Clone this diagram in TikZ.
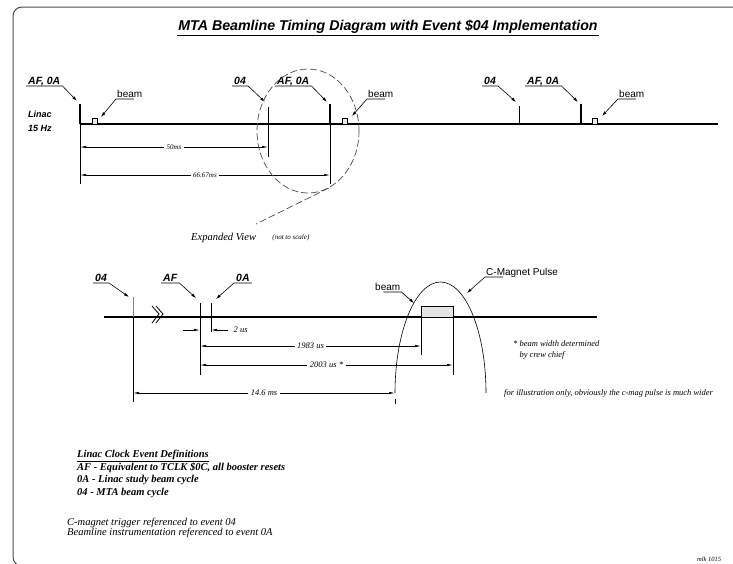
\documentclass[tikz,border=0pt]{standalone}
\usepackage{fontspec}
\setmainfont{Liberation Serif}
\setsansfont{Liberation Sans}
\usetikzlibrary{arrows.meta,positioning,shapes.geometric}

\begin{document}
\begin{tikzpicture}[
    x=1pt, y=-1pt,
    tline/.style={line width=1.5pt},
    evtick/.style={line width=1.6pt},
    thin/.style={line width=0.6pt},
    evlbl/.style={font=\sffamily\bfseries\itshape\fontsize{10.5}{12}\selectfont, inner xsep=2pt, inner ysep=1pt, text depth=0.5pt, anchor=south west},
    bmlbl/.style={font=\sffamily\fontsize{10}{12}\selectfont, inner sep=1pt, text depth=0.5pt, anchor=south west},
    leader/.style={-{Latex[length=5pt,width=3pt]}, line width=0.6pt},
    dimline/.style={{Latex[length=6pt,width=2.4pt]}-{Latex[length=6pt,width=2.4pt]}, line width=0.6pt},
    dimarr/.style={-{Latex[length=6pt,width=2.4pt]}, line width=0.6pt},
    dimlbl/.style={font=\itshape\fontsize{8.5}{10}\selectfont, fill=white, inner sep=2.5pt},
    topdim/.style={dimlbl, font=\itshape\fontsize{7}{8}\selectfont},
    beambox/.style={draw, fill=gray!15, line width=0.6pt, minimum width=5pt, minimum height=6pt, inner sep=0pt},
    note/.style={font=\itshape\fontsize{8.5}{11}\selectfont, inner sep=0pt, anchor=west, align=left}
]
\useasboundingbox (0,0) rectangle (733,563);
\clip (0,0) rectangle (733,563);

% page frame
\draw[line width=1pt, black!70, rounded corners=9pt] (13,7) rectangle (760,566);

% title
\node[font=\sffamily\bfseries\itshape\fontsize{14.2}{16}\selectfont, inner sep=1pt] (title) at (388,27) {MTA Beamline Timing Diagram with Event \$04 Implementation};
\draw[line width=0.7pt] (title.south west) -- (title.south east);

% Linac 15 Hz timeline
\node[font=\sffamily\bfseries\itshape\fontsize{9}{14}\selectfont, align=left, inner sep=0pt] (linac) at (40,121) {Linac\\15 Hz};
\coordinate (lnS) at (80,124);
\coordinate (lnE) at (718,124);
\draw[tline] (lnS) -- (lnE);

\draw[evtick] (80,104) -- (80,124);
\draw[evtick] (330,104) -- (330,124);
\draw[evtick] (581,104) -- (581,124);
\draw[line width=1pt] (268,107) -- (268,124);
\draw[line width=0.9pt] (519,106) -- (519,124);

\node[beambox] (bxA) at (94.5,121) {};
\node[beambox] (bxB) at (344.5,121) {};
\node[beambox] (bxC) at (594.5,121) {};

% event labels
\node[evlbl] (evA) at (26,86) {AF, 0A};
\node[evlbl] (evB) at (232,86) {04};
\node[evlbl] (evC) at (275,86) {AF, 0A};
\node[evlbl] (evD) at (482,86) {04};
\node[evlbl] (evE) at (525,86) {AF, 0A};
\coordinate (tgA) at (77,101);
\coordinate (tgB) at (265,102);
\coordinate (tgC) at (327,102);
\coordinate (tgD) at (516,102);
\coordinate (tgE) at (578,102);
\draw[leader] (evA.south west) -- (evA.south east) -- (tgA);
\draw[leader] (evB.south west) -- (evB.south east) -- (tgB);
\draw[leader] (evC.south west) -- (evC.south east) -- (tgC);
\draw[leader] (evD.south west) -- (evD.south east) -- (tgD);
\draw[leader] (evE.south west) -- (evE.south east) -- (tgE);

\node[bmlbl] (bmA) at (116,99) {beam};
\node[bmlbl] (bmB) at (367,99) {beam};
\node[bmlbl] (bmC) at (618,99) {beam};
\coordinate (btA) at (101,117);
\coordinate (btB) at (352,116);
\coordinate (btC) at (602,116);
\draw[leader] ([xshift=18pt]bmA.south west) -- (bmA.south west) -- (btA);
\draw[leader] ([xshift=18pt]bmB.south west) -- (bmB.south west) -- (btB);
\draw[leader] ([xshift=18pt]bmC.south west) -- (bmC.south west) -- (btC);

% 50ms and 66.67ms
\draw[thin] (80,124) -- (80,184);
\draw[thin] (268,124) -- (268,157);
\draw[thin] (330,124) -- (330,184);
\coordinate (dAa) at (80,147);
\coordinate (dAb) at (268,147);
\coordinate (dBa) at (80,175);
\coordinate (dBb) at (330,175);
\draw[dimline] (dAa) -- node[topdim] (l50) {50ms} (dAb);
\draw[dimline] (dBa) -- node[topdim] (l66) {66.67ms} (dBb);

% expanded view marker
\node[ellipse, draw=gray!60!black, dashed, dash pattern=on 7pt off 3pt, line width=0.7pt, minimum width=102pt, minimum height=124pt, inner sep=0pt] (zoomc) at (308,131) {};
\coordinate (xpEnd) at (256,224);
\draw[gray!60!black, line width=0.7pt, dash pattern=on 7pt off 3pt] (zoomc.-70) -- (xpEnd);
\node[font=\itshape\fontsize{10.5}{12}\selectfont, anchor=west, inner sep=0pt] (expv) at (191,238) {Expanded View};
\node[font=\itshape\fontsize{7}{8}\selectfont, right=16pt of expv, inner sep=0pt] (nts) {(not to scale)};

% expanded timeline
\coordinate (exS) at (104,317);
\coordinate (exE) at (597,317);
\draw[tline] (exS) -- (exE);
\draw[line width=0.8pt] (152,306) -- (159,314) -- (152,323) (156,306) -- (163,314) -- (156,323);

\draw[thin, gray] (133,297) -- (133,317);
\draw[thin] (133,317) -- (133,402);
\draw[line width=0.8pt] (200,303) -- (200,375);
\draw[line width=0.8pt] (211,303) -- (211,332);
\node[draw, fill=gray!20, line width=0.6pt, minimum width=32pt, minimum height=11pt, inner sep=0pt] (bxD) at (437,311.5) {};
\draw[thin] (421,317) -- (421,355);
\draw[thin] (453,317) -- (453,375);
\draw[thin] (395,399) -- (395,404);

% C-magnet pulse
\draw[line width=0.6pt] (395,393) arc[start angle=180, end angle=0, x radius=45.5pt, y radius=111pt];

% expanded labels
\node[evlbl] (evF) at (93,283) {04};
\node[evlbl] (evG) at (161,283) {AF};
\node[evlbl] (evH) at (234,283) {0A};
\coordinate (tgF) at (129,297);
\coordinate (tgG) at (196,298);
\coordinate (tgH) at (216,299);
\draw[leader] (evF.south west) -- (evF.south east) -- (tgF);
\draw[leader] (evG.south west) -- (evG.south east) -- (tgG);
\draw[leader] (evH.south east) -- (evH.south west) -- (tgH);

\node[bmlbl] (bmD) at (374,292) {beam};
\coordinate (btD) at (414,303);
\draw[leader] ([xshift=-18pt]bmD.south east) -- (bmD.south east) -- (btD);
\node[bmlbl] (cmag) at (485,277) {C-Magnet Pulse};
\coordinate (cmt) at (467,293);
\draw[leader] ([xshift=18pt]cmag.south west) -- (cmag.south west) -- (cmt);

% expanded dimensions
\coordinate (tuA) at (183,330);
\coordinate (tuB) at (200,330);
\coordinate (tuC) at (228,330);
\coordinate (tuD) at (211,330);
\draw[dimarr] (tuA) -- (tuB);
\draw[dimarr] (tuC) -- (tuD);
\node[dimlbl, anchor=west, fill=none] (l2us) at (231,330) {2 us};
\coordinate (dCa) at (200,346);
\coordinate (dCb) at (421,346);
\coordinate (dDa) at (200,365);
\coordinate (dDb) at (453,365);
\coordinate (dEa) at (133,393);
\coordinate (dEb) at (395,393);
\draw[dimline] (dCa) -- node[dimlbl] (l1983) {1983 us} (dCb);
\draw[dimline] (dDa) -- node[dimlbl] (l2003) {2003 us *} (dDb);
\draw[dimline] (dEa) -- node[dimlbl] (l146) {14.6 ms} (dEb);

% notes
\node[note] (bwnote) at (513,350) {* beam width determined\\\phantom{* }by crew chief};
\node[note] (illus) at (504,393) {for illustration only, obviously the c-mag pulse is much wider};

\node[font=\bfseries\itshape\fontsize{10.5}{12.5}\selectfont, align=left, anchor=north west, inner sep=0pt] (defs) at (77,450) {\underline{Linac Clock Event Definitions}\\AF - Equivalent to TCLK \$0C, all booster resets\\0A - Linac study beam cycle\\04 - MTA beam cycle};
\node[font=\itshape\fontsize{10.5}{10}\selectfont, align=left, anchor=north west, inner sep=0pt] (refs) at (67,518) {C-magnet trigger referenced to event 04\\Beamline instrumentation referenced to event 0A};
\node[font=\itshape\fontsize{6.5}{7}\selectfont, anchor=west, inner sep=0pt] (mlk) at (697,559) {mlk 1015};

\end{tikzpicture}
\end{document}
